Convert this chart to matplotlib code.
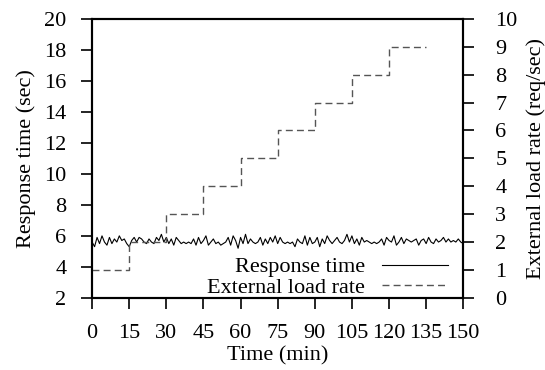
import numpy as np
import matplotlib.pyplot as plt

plt.rcParams['font.family'] = ['Liberation Serif', 'DejaVu Serif']
plt.rcParams['font.size'] = 16

# response time, one sample per minute (0..150)
resp_time = [
    5.6, 5.3, 5.9, 5.5, 6.0, 5.6, 5.4, 5.9, 5.5, 5.8, 5.6, 6.0, 5.7, 5.8, 5.5,
    5.3, 5.7, 5.9, 5.6, 5.9, 5.8, 5.6, 5.5, 5.8, 5.6, 5.5, 5.9, 5.7, 6.1, 5.6,
    5.9, 5.5, 5.8, 5.4, 5.9, 5.7, 5.5, 5.6, 5.5, 5.6, 5.5, 5.8, 5.4, 5.9, 5.5,
    5.7, 6.0, 5.4, 5.6, 5.8, 5.5, 5.6, 5.4, 5.5, 5.6, 5.9, 5.4, 6.0, 5.7, 5.2,
    5.9, 5.5, 6.1, 5.5, 5.8, 5.6, 5.5, 5.6, 5.9, 5.4, 5.8, 5.5, 5.9, 5.6, 6.0,
    5.5, 5.9, 5.6, 5.5, 5.6, 5.5, 5.6, 5.3, 5.8, 5.6, 5.5, 6.0, 5.4, 5.9, 5.5,
    5.6, 5.9, 5.3, 5.8, 5.5, 6.0, 5.7, 5.5, 5.7, 5.9, 5.6, 5.5, 5.7, 6.1, 5.6,
    6.0, 5.5, 5.8, 5.4, 5.9, 5.6, 5.7, 5.6, 5.5, 5.6, 5.5, 5.6, 5.8, 5.4, 5.9,
    5.7, 5.6, 6.0, 5.4, 5.6, 5.9, 5.5, 5.8, 5.7, 5.6, 5.7, 5.8, 5.4, 5.7, 5.8,
    5.5, 5.9, 5.6, 5.5, 5.8, 5.6, 5.7, 5.9, 5.6, 5.8, 5.6, 5.7, 5.6, 5.8, 5.6,
    5.5,
]
minutes = np.arange(len(resp_time))

# external load rate (req/sec), step every 15 minutes
load_t = [0, 15, 30, 45, 60, 75, 90, 105, 120, 135]
load_rate = [1, 2, 3, 4, 5, 6, 7, 8, 9, 9]

fig = plt.figure(figsize=(5.45, 3.7), dpi=100)
ax = fig.add_axes([0.169, 0.195, 0.681, 0.754])
ax2 = ax.twinx()

l1, = ax.plot(minutes, resp_time, color='black', lw=0.8, label='Response time')
l2, = ax2.plot(load_t, load_rate, drawstyle='steps-post', color='#555555',
               lw=1.0, ls=(0, (5, 3)), label='External load rate')

ax.set_xlim(0, 150)
ax.set_ylim(2, 20)
ax2.set_ylim(0, 10)
ax.set_xticks(range(0, 151, 15))
ax.set_yticks(range(2, 21, 2))
ax2.set_yticks(range(0, 11))

for a in (ax, ax2):
    a.tick_params(direction='out', length=8, width=1.2)
    for s in a.spines.values():
        s.set_linewidth(1.5)
ax.tick_params(axis='x', pad=11)
ax.tick_params(axis='y', pad=10.5)
ax2.tick_params(axis='y', pad=15)

ax.set_xlabel('Time (min)', labelpad=2)
ax.set_ylabel('Response time (sec)', labelpad=6)
ax2.set_ylabel('External load rate (req/sec)', labelpad=6)

ax.legend([l1, l2], ['Response time', 'External load rate'], loc='lower right',
          frameon=False, markerfirst=False, handlelength=3.0, handletextpad=0.75,
          borderpad=0, borderaxespad=0, labelspacing=0.0,
          bbox_to_anchor=(0.96, 0.0))

fig.savefig('out.png', dpi=100)
